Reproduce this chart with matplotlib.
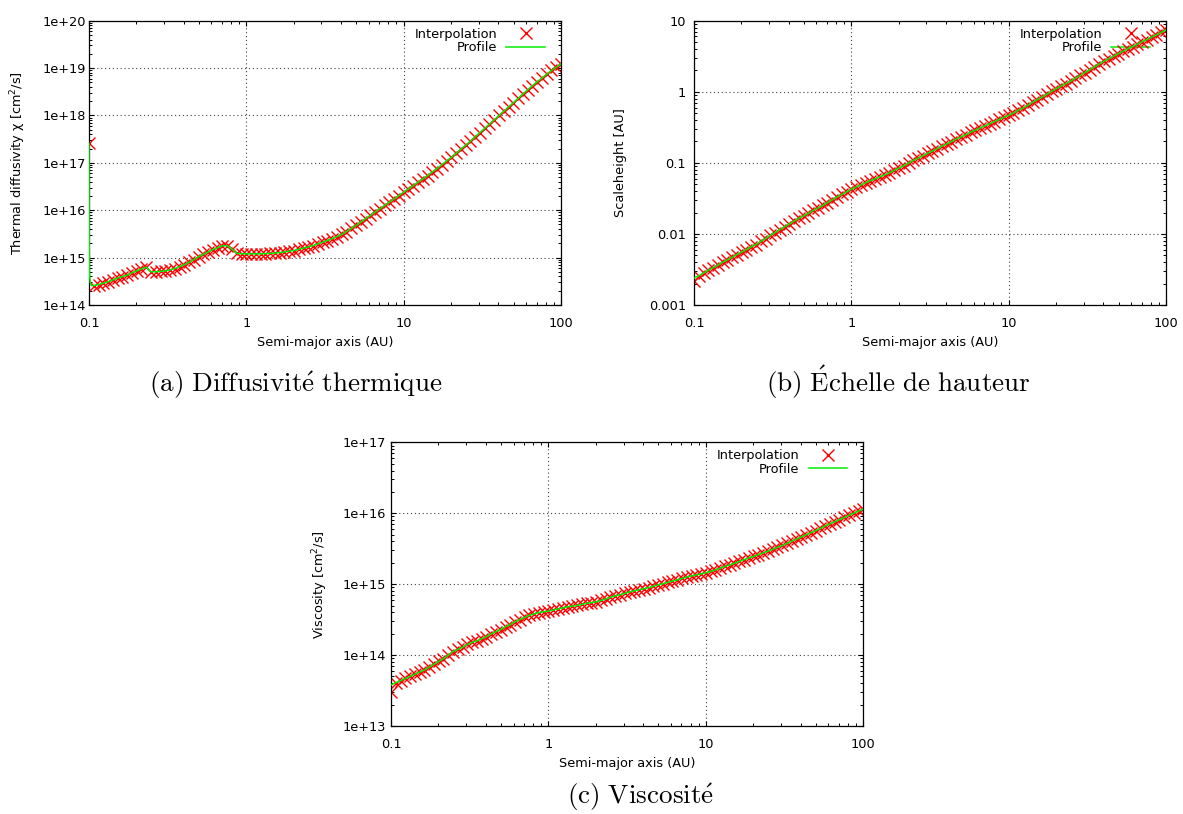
import numpy as np
import matplotlib
matplotlib.use('Agg')
import matplotlib.pyplot as plt
from matplotlib.ticker import FixedLocator, FixedFormatter, LogLocator, NullFormatter

plt.rcParams['font.family'] = ['DejaVu Sans']
plt.rcParams['mathtext.fontset'] = 'dejavusans'

# ---------------- data ----------------
x_au = [0.1000, 0.1072, 0.1150, 0.1233, 0.1322, 0.1418, 0.1520, 0.1630, 0.1748, 0.1874,
        0.2009, 0.2154, 0.2310, 0.2477, 0.2656, 0.2848, 0.3054, 0.3275, 0.3511, 0.3765,
        0.4037, 0.4329, 0.4642, 0.4977, 0.5337, 0.5722, 0.6136, 0.6579, 0.7055, 0.7565,
        0.8111, 0.8697, 0.9326,
        1.000, 1.072, 1.150, 1.233, 1.322, 1.418, 1.520, 1.630, 1.748, 1.874,
        2.009, 2.154, 2.310, 2.477, 2.656, 2.848, 3.054, 3.275, 3.511, 3.765,
        4.037, 4.329, 4.642, 4.977, 5.337, 5.722, 6.136, 6.579, 7.055, 7.565,
        8.111, 8.697, 9.326,
        10.00, 10.72, 11.50, 12.33, 13.22, 14.18, 15.20, 16.30, 17.48, 18.74,
        20.09, 21.54, 23.10, 24.77, 26.56, 28.48, 30.54, 32.75, 35.11, 37.65,
        40.37, 43.29, 46.42, 49.77, 53.37, 57.22, 61.36, 65.79, 70.55, 75.65,
        81.11, 86.97, 93.26, 100.0]

# log10 of thermal diffusivity [cm^2/s]
chi_log10 = [17.41, 14.41, 14.43, 14.46, 14.49, 14.53, 14.57, 14.60, 14.63, 14.68,
             14.72, 14.76, 14.80, 14.70, 14.70, 14.71, 14.72, 14.74, 14.77, 14.81,
             14.85, 14.90, 14.96, 15.02, 15.07, 15.12, 15.17, 15.21, 15.25, 15.25,
             15.18, 15.09, 15.08,
             15.08, 15.08, 15.08, 15.08, 15.085, 15.09, 15.095, 15.105, 15.12, 15.135,
             15.15, 15.175, 15.20, 15.225, 15.255, 15.29, 15.325, 15.36, 15.40, 15.445,
             15.49, 15.55, 15.615, 15.68, 15.75, 15.82, 15.89, 15.96, 16.03, 16.10,
             16.17, 16.24, 16.31,
             16.38, 16.45, 16.52, 16.59, 16.66, 16.73, 16.81, 16.88, 16.96, 17.04,
             17.12, 17.20, 17.29, 17.37, 17.46, 17.55, 17.64, 17.73, 17.82, 17.91,
             18.00, 18.09, 18.18, 18.27, 18.36, 18.45, 18.54, 18.63, 18.71, 18.79,
             18.87, 18.95, 19.02, 19.09]
# steep drop of the profile right at the inner edge
chi_profile_head_x = [0.1000, 0.1003, 0.1008, 0.1018, 0.1035]
chi_profile_head_log10 = [17.41, 15.30, 14.65, 14.48, 14.41]

# log10 of scaleheight [AU]
h_log10 = [-2.66, -2.59, -2.55, -2.51, -2.475, -2.44, -2.40, -2.365, -2.33, -2.29,
           -2.255, -2.22, -2.18, -2.15, -2.105, -2.065, -2.02, -1.98, -1.94, -1.90,
           -1.86, -1.82, -1.78, -1.745, -1.71, -1.67, -1.635, -1.60, -1.56, -1.52,
           -1.48, -1.445, -1.41,
           -1.37, -1.34, -1.31, -1.28, -1.25, -1.225, -1.195, -1.17, -1.14, -1.105,
           -1.075, -1.04, -1.005, -0.965, -0.935, -0.90, -0.865, -0.835, -0.80, -0.765,
           -0.735, -0.70, -0.665, -0.635, -0.605, -0.57, -0.54, -0.51, -0.48, -0.45,
           -0.42, -0.39, -0.36,
           -0.33, -0.30, -0.26, -0.23, -0.19, -0.15, -0.11, -0.075, -0.035, 0.005,
           0.045, 0.08, 0.115, 0.15, 0.19, 0.23, 0.27, 0.31, 0.35, 0.39,
           0.43, 0.465, 0.50, 0.535, 0.57, 0.605, 0.635, 0.67, 0.705, 0.735,
           0.77, 0.80, 0.835, 0.87]
h_profile_first_log10 = -2.62

# log10 of viscosity [cm^2/s]
nu_log10 = [13.48, 13.61, 13.64, 13.67, 13.70, 13.73, 13.76, 13.79, 13.83, 13.87,
            13.91, 13.95, 14.00, 14.05, 14.08, 14.11, 14.15, 14.18, 14.20, 14.23,
            14.26, 14.30, 14.33, 14.36, 14.40, 14.43, 14.47, 14.50, 14.53, 14.56,
            14.58, 14.60, 14.61,
            14.62, 14.635, 14.65, 14.665, 14.68, 14.69, 14.70, 14.715, 14.73, 14.74,
            14.75, 14.77, 14.79, 14.815, 14.835, 14.85, 14.87, 14.89, 14.905, 14.92,
            14.935, 14.95, 14.97, 14.99, 15.005, 15.025, 15.045, 15.06, 15.08, 15.10,
            15.115, 15.13, 15.145,
            15.16, 15.18, 15.20, 15.225, 15.25, 15.27, 15.295, 15.32, 15.345, 15.37,
            15.39, 15.415, 15.44, 15.465, 15.49, 15.52, 15.545, 15.575, 15.605, 15.635,
            15.665, 15.695, 15.725, 15.755, 15.785, 15.82, 15.85, 15.88, 15.91, 15.94,
            15.97, 16.00, 16.03, 16.06]
nu_profile_first_log10 = 13.58

x_ticks = [0.1, 1, 10, 100]
x_ticklabels = ['0.1', '1', '10', '100']
chi_ticks = [1e14, 1e15, 1e16, 1e17, 1e18, 1e19, 1e20]
chi_ticklabels = ['1e+14', '1e+15', '1e+16', '1e+17', '1e+18', '1e+19', '1e+20']
h_ticks = [1e-3, 1e-2, 1e-1, 1, 10]
h_ticklabels = ['0.001', '0.01', '0.1', '1', '10']
nu_ticks = [1e13, 1e14, 1e15, 1e16, 1e17]
nu_ticklabels = ['1e+13', '1e+14', '1e+15', '1e+16', '1e+17']

# ---------------- figure ----------------
W, H = 1183, 814
fig = plt.figure(figsize=(W / 100, H / 100), dpi=100)
FS = 9.3
RED = '#ff0000'
GREEN = '#00ee00'


def make_axes(l, t, r, b):
    return fig.add_axes([l / W, 1 - b / H, (r - l) / W, (b - t) / H])


def style(ax, yticks, yticklabels, ylabel, ylab_x, ypad):
    ax.set_xscale('log')
    ax.set_yscale('log')
    ax.set_xlim(0.1, 100)
    ax.set_ylim(yticks[0], yticks[-1])
    ax.xaxis.set_major_locator(FixedLocator(x_ticks))
    ax.xaxis.set_major_formatter(FixedFormatter(x_ticklabels))
    ax.yaxis.set_major_locator(FixedLocator(yticks))
    ax.yaxis.set_major_formatter(FixedFormatter(yticklabels))
    for axis in (ax.xaxis, ax.yaxis):
        axis.set_minor_locator(LogLocator(base=10, subs=np.arange(2, 10), numticks=100))
        axis.set_minor_formatter(NullFormatter())
    ax.tick_params(which='both', direction='in', top=True, right=True, color='black')
    ax.tick_params(which='major', length=3.8, width=0.8)
    ax.tick_params(which='minor', length=2.2, width=0.7)
    ax.tick_params(axis='x', which='major', pad=8.4, labelsize=FS)
    ax.tick_params(axis='y', which='major', pad=ypad, labelsize=FS)
    ax.grid(True, which='major', color='0.25', linestyle=(0, (1, 2.5)), linewidth=0.8)
    ax.set_axisbelow(True)
    for sp in ax.spines.values():
        sp.set_linewidth(0.9)
        sp.set_color('black')
    ax.set_xlabel('Semi-major axis (AU)', fontsize=FS, va='center')
    ax.xaxis.set_label_coords(0.5, -0.133)
    ax.set_ylabel(ylabel, fontsize=FS, va='center')
    ax.yaxis.set_label_coords(ylab_x, 0.5)
    leg = ax.legend(loc='upper right', bbox_to_anchor=(0.9716, 0.985), borderaxespad=0,
                    borderpad=0.2, markerfirst=False, frameon=True, fancybox=False,
                    handlelength=3.0, handletextpad=0.7, labelspacing=0.05,
                    fontsize=FS, numpoints=1)
    fr = leg.get_frame()
    fr.set_facecolor('white')
    fr.set_edgecolor('none')
    fr.set_alpha(1)
    leg.set_zorder(1)


def draw(ax, x, ylog, px, pylog):
    ax.plot(x, 10 ** np.array(ylog), linestyle='none', marker='x', color=RED,
            ms=8.0, mew=1.0, label='Interpolation', zorder=2)
    ax.plot(px, 10 ** np.array(pylog), color=GREEN, lw=1.1, label='Profile', zorder=3)


# (a) thermal diffusivity
ax_a = make_axes(89, 20.7, 561, 305)
draw(ax_a, x_au, chi_log10,
     chi_profile_head_x + x_au[1:], chi_profile_head_log10 + chi_log10[1:])
style(ax_a, chi_ticks, chi_ticklabels, 'Thermal diffusivity χ [cm$^2$/s]', -0.150, 2.2)

# (b) scaleheight
ax_b = make_axes(694, 20.7, 1166, 305)
draw(ax_b, x_au, h_log10, x_au, [h_profile_first_log10] + h_log10[1:])
style(ax_b, h_ticks, h_ticklabels, 'Scaleheight [AU]', -0.155, 5.8)

# (c) viscosity
ax_c = make_axes(391, 442.3, 863.3, 726)
draw(ax_c, x_au, nu_log10, x_au, [nu_profile_first_log10] + nu_log10[1:])
style(ax_c, nu_ticks, nu_ticklabels, 'Viscosity [cm$^2$/s]', -0.149, 3.6)

# captions
CAP = 19.5
fig.text(296 / W, 1 - 391.7 / H, r'$\mathrm{(a)\ Diffusivit\acute{e}\ thermique}$',
         fontsize=CAP, math_fontfamily='cm', ha='center', va='baseline')
fig.text(898 / W, 1 - 391.7 / H, r'$\mathrm{(b)\ \acute{E}chelle\ de\ hauteur}$',
         fontsize=CAP, math_fontfamily='cm', ha='center', va='baseline')
fig.text(640 / W, 1 - 804 / H, r'$\mathrm{(c)\ Viscosit\acute{e}}$',
         fontsize=CAP, math_fontfamily='cm', ha='center', va='baseline')

fig.savefig('out.png', dpi=100)
